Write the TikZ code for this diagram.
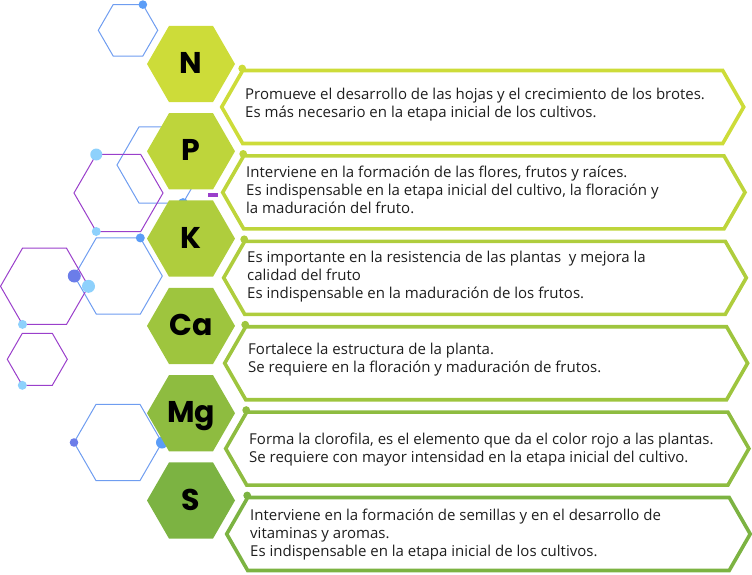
\documentclass[tikz,border=0pt]{standalone}
\usepackage{fontspec}
\setmainfont{Open Sans}
\newfontfamily\hexfont{Poppins}
\usetikzlibrary{calc}
\definecolor{cN}{RGB}{205,220,57}
\definecolor{cP}{RGB}{190,213,59}
\definecolor{cK}{RGB}{175,205,61}
\definecolor{cCa}{RGB}{158,197,62}
\definecolor{cMg}{RGB}{142,188,64}
\definecolor{cS}{RGB}{124,179,66}
\definecolor{lblue}{RGB}{142,209,252}
\definecolor{mblue}{RGB}{91,157,247}
\definecolor{indigo}{RGB}{107,125,233}
\definecolor{hblue}{RGB}{111,157,240}
\definecolor{hpurple}{RGB}{154,63,203}
\definecolor{txt}{RGB}{30,30,30}
% hexagon path: cx cy R style
\newcommand\hexpath[4]{\path[#4] ({#1+#3},{#2}) -- ({#1+0.5*#3},{#2+0.866*#3}) -- ({#1-0.5*#3},{#2+0.866*#3}) -- ({#1-#3},{#2}) -- ({#1-0.5*#3},{#2-0.866*#3}) -- ({#1+0.5*#3},{#2-0.866*#3}) -- cycle;}
% text box: name c xl xr color textoffset text
\newcommand\infobox[7]{%
  \path[draw=#5, line width=3.6pt, line join=miter]
    ({#3},{#2}) -- ({#3+21},{#2-36.5}) -- ({#4-21},{#2-36.5}) -- ({#4},{#2}) -- ({#4-21},{#2+36.5}) -- ({#3+21},{#2+36.5}) -- cycle;
  \fill[#5] ({#3+20.5},{#2-38.5}) circle (3.9);
  \node[boxtext, anchor=west] (#1) at ({#3+23.3},{#2+#6-3.6}) {\strut #7\strut};}
\tikzset{
  deco/.style={line width=1pt},
  boxtext/.style={inner sep=0pt, align=left, text=txt, font=\fontsize{15}{18}\selectfont},
  letter/.style={inner sep=0pt, text depth=0pt, text=black, font=\hexfont\bfseries\fontsize{30}{30}\selectfont},
}
\begin{document}
\begin{tikzpicture}[x=1pt,y=-1pt]
\useasboundingbox (0,0) rectangle (752,575);
% decorative hexagons
\hexpath{128}{30.3}{29.7}{draw=hblue, deco}
\hexpath{161}{165}{44}{draw=hblue, deco}
\hexpath{118.5}{193}{44.5}{draw=hpurple, deco}
\hexpath{118.3}{276}{44}{draw=hblue, deco}
\hexpath{44.5}{286.3}{44}{draw=hpurple, deco}
\hexpath{37.3}{359.3}{30}{draw=hpurple, deco}
\hexpath{118}{442.5}{44}{draw=hblue, deco}
% dots
\fill[mblue] (142.85,4.6) circle (4.3);
\fill[mblue] (183,203.1) circle (5);
\fill[lblue] (96.25,154.5) circle (6);
\fill[lblue] (96.25,231.5) circle (4.5);
\fill[mblue] (140.3,237.9) circle (4.5);
\fill[indigo] (74.3,276) circle (6.5);
\fill[lblue] (88.5,286.3) circle (6.5);
\fill[lblue] (22.5,324.4) circle (4.5);
\fill[lblue] (22.3,385.3) circle (4.5);
\fill[indigo] (74,442.5) circle (4.3);
\fill[mblue] (162,442.5) circle (6);
\fill[hpurple] (208,193) rectangle (218,196.5);
% green hexagons
\hexpath{191}{64}{44}{fill=cN}
\hexpath{191}{151.3}{44}{fill=cP}
\hexpath{191}{238.6}{44}{fill=cK}
\hexpath{191}{325.9}{44}{fill=cCa}
\hexpath{191}{413.2}{44}{fill=cMg}
\hexpath{191}{500.5}{44}{fill=cS}
\node[letter] (hN) at (191,63) {N};
\node[letter] (hP) at (191,150.3) {P};
\node[letter] (hK) at (191,237.6) {K};
\node[letter] (hCa) at (191,324.9) {Ca};
\node[letter] (hMg) at (191,412.2) {Mg};
\node[letter] (hS) at (191,499.5) {S};
% boxes
\infobox{tN}{107}{221.7}{743.7}{cN}{1.8}{Promueve el desarrollo de las hojas y el crecimiento de los brotes.\\Es más necesario en la etapa inicial de los cultivos.}
\infobox{tP}{192.4}{222.7}{745}{cP}{2.6}{Interviene en la formación de las flores, frutos y raíces.\\Es indispensable en la etapa inicial del cultivo, la floración y\\la maduración del fruto.}
\infobox{tK}{277.8}{223.7}{746.3}{cK}{2.2}{Es importante en la resistencia de las plantas~ y mejora la\\calidad del fruto\\Es indispensable en la maduración de los frutos.}
\infobox{tCa}{363.2}{224.7}{747.6}{cCa}{0.5}{Fortalece la estructura de la planta.\\Se requiere en la floración y maduración de frutos.}
\infobox{tMg}{448.6}{225.7}{748.9}{cMg}{4.4}{Forma la clorofila, es el elemento que da el color rojo a las plantas.\\Se requiere con mayor intensidad en la etapa inicial del cultivo.}
\infobox{tS}{534}{226.7}{750.2}{cS}{4.3}{Interviene en la formación de semillas y en el desarrollo de\\vitaminas y aromas.\\Es indispensable en la etapa inicial de los cultivos.}
\end{tikzpicture}
\end{document}
